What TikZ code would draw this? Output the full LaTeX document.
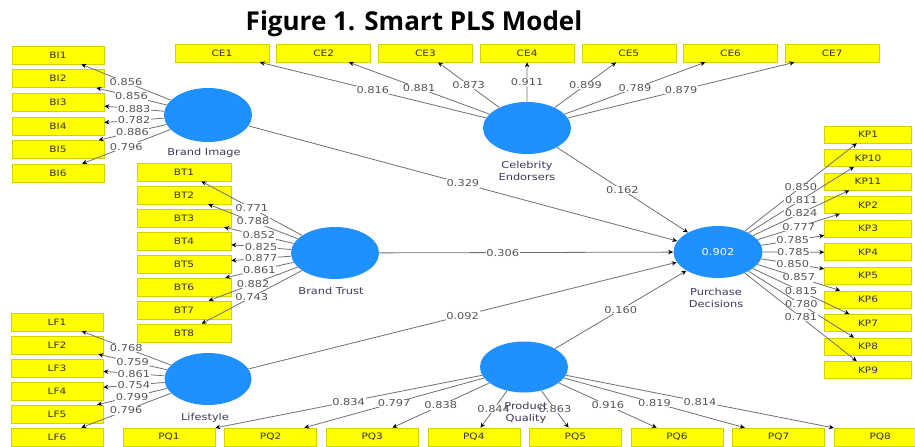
\documentclass[tikz,border=0pt]{standalone}
\usepackage{fontspec}
\usetikzlibrary{shapes.geometric,arrows.meta,calc}
\newfontfamily\titlefont{Open Sans}
\newfontfamily\plsfont[FakeStretch=1.2]{DejaVu Sans}
\newlength\pu
\setlength\pu{0.02cm}
\definecolor{indfill}{HTML}{FFFF00}
\definecolor{indborder}{HTML}{D2D200}
\definecolor{indtext}{HTML}{333333}
\definecolor{lvblue}{HTML}{1E90FF}
\definecolor{lvtext}{HTML}{3A3A5A}
\definecolor{coeftext}{HTML}{555555}
\definecolor{linegray}{HTML}{707070}
\tikzset{
  ind/.style={draw=indborder, fill=indfill, line width=0.6\pu, minimum height=18\pu,
    inner sep=0pt, text=indtext, font=\plsfont\fontsize{5}{6}\selectfont},
  lv/.style={ellipse, fill=lvblue, draw=none, minimum width=88\pu, minimum height=52\pu, inner sep=0pt},
  lvname/.style={align=center, text=lvtext, font=\plsfont\fontsize{5.4}{7.1}\selectfont},
  coef/.style={fill=white, inner sep=0.6\pu, text=coeftext, font=\plsfont\fontsize{5.4}{6}\selectfont},
  link/.style={draw=linegray, line width=0.8\pu, -{Stealth[length=0.1cm,width=0.09cm,color=black]}}
}
\begin{document}
\begin{tikzpicture}[x=0.02cm, y=-0.02cm]
\useasboundingbox (0,0) rectangle (915,446);
\clip (0,0) rectangle (915,446);
\fill[white] (0,0) rectangle (915,446);

% title
\node[anchor=base, font=\titlefont\bfseries\fontsize{14.8}{17}\selectfont] (title) at (414,31) {Figure 1. Smart PLS Model};

% latent variables
\node[lv, minimum height=54\pu] (bi) at (208,115) {};
\node[lv] (ce) at (527,128) {};
\node[lv] (bt) at (335,253) {};
\node[lv, minimum width=89\pu, text=white, font=\plsfont\fontsize{5.4}{6}\selectfont] (pd) at (718,252) {0.902};
\node[lv, minimum width=87\pu] (lf) at (208,379) {};
\node[lv, minimum height=51\pu] (pq) at (524,367) {};

% indicators
\foreach \i [count=\k from 0] in {1,...,6}
  \node[ind, minimum width=92\pu] (BI\i) at (58,55+23.6*\k) {BI\i};
\foreach \i [count=\k from 0] in {1,...,7}
  \node[ind, minimum width=94\pu] (CE\i) at (222+101.7*\k,53) {CE\i};
\foreach \i [count=\k from 0] in {1,...,8}
  \node[ind, minimum width=94\pu] (BT\i) at (184,172+23*\k) {BT\i};
\foreach \i [count=\k from 0] in {1,10,11,2,3,4,5,6,7,8,9}
  \node[ind, minimum width=87\pu, minimum height=17\pu] (KP\i) at (868,134.5+23.55*\k) {KP\i};
\foreach \i [count=\k from 0] in {1,...,6}
  \node[ind, minimum width=92\pu] (LF\i) at (57,322+23*\k) {LF\i};
\foreach \i [count=\k from 0] in {1,...,8}
  \node[ind, minimum width=92\pu] (PQ\i) at (169+101.6*\k,437) {PQ\i};

% construct names
\node[lvname] (biname) at (204,153) {Brand Image};
\node[lvname] (cename) at (527,171) {Celebrity\\Endorsers};
\node[lvname] (btname) at (331,291) {Brand Trust};
\node[lvname] (pdname) at (716,298) {Purchase\\Decisions};
\node[lvname] (lfname) at (205,418) {Lifestyle};

% outer loadings
\foreach \i/\v in {1/0.856,2/0.856,3/0.883,4/0.782,5/0.886,6/0.796}
  \draw[link] (bi) -- node[coef] {\v} (BI\i);
\foreach \i/\v in {1/0.816,2/0.881,3/0.873,4/0.911,5/0.899,6/0.789,7/0.879}
  \draw[link] (ce) -- node[coef] {\v} (CE\i);
\foreach \i/\v in {1/0.771,2/0.788,3/0.852,4/0.825,5/0.877,6/0.861,7/0.882,8/0.743}
  \draw[link] (bt) -- node[coef] {\v} (BT\i);
\foreach \i/\v in {1/0.850,10/0.811,11/0.824,2/0.777,3/0.785,4/0.785,5/0.850,6/0.857,7/0.815,8/0.780,9/0.781}
  \draw[link] (pd) -- node[coef] {\v} (KP\i);
\foreach \i/\v in {1/0.768,2/0.759,3/0.861,4/0.754,5/0.799,6/0.796}
  \draw[link] (lf) -- node[coef] {\v} (LF\i);
\foreach \i/\v in {1/0.834,2/0.797,3/0.838,4/0.844,5/0.863,6/0.916,7/0.819,8/0.814}
  \draw[link] (pq) -- node[coef] {\v} (PQ\i);

% structural paths
\draw[link] (bi) -- node[coef] {0.329} (pd);
\draw[link] (ce) -- node[coef] {0.162} (pd);
\draw[link] (bt) -- node[coef, pos=0.42] {0.306} (pd);
\draw[link] (lf) -- node[coef] {0.092} (pd);
\draw[link] (pq) -- node[coef] {0.160} (pd);

\node[lvname] (pqname) at (526,413) {Product\\Quality};
\end{tikzpicture}
\end{document}
